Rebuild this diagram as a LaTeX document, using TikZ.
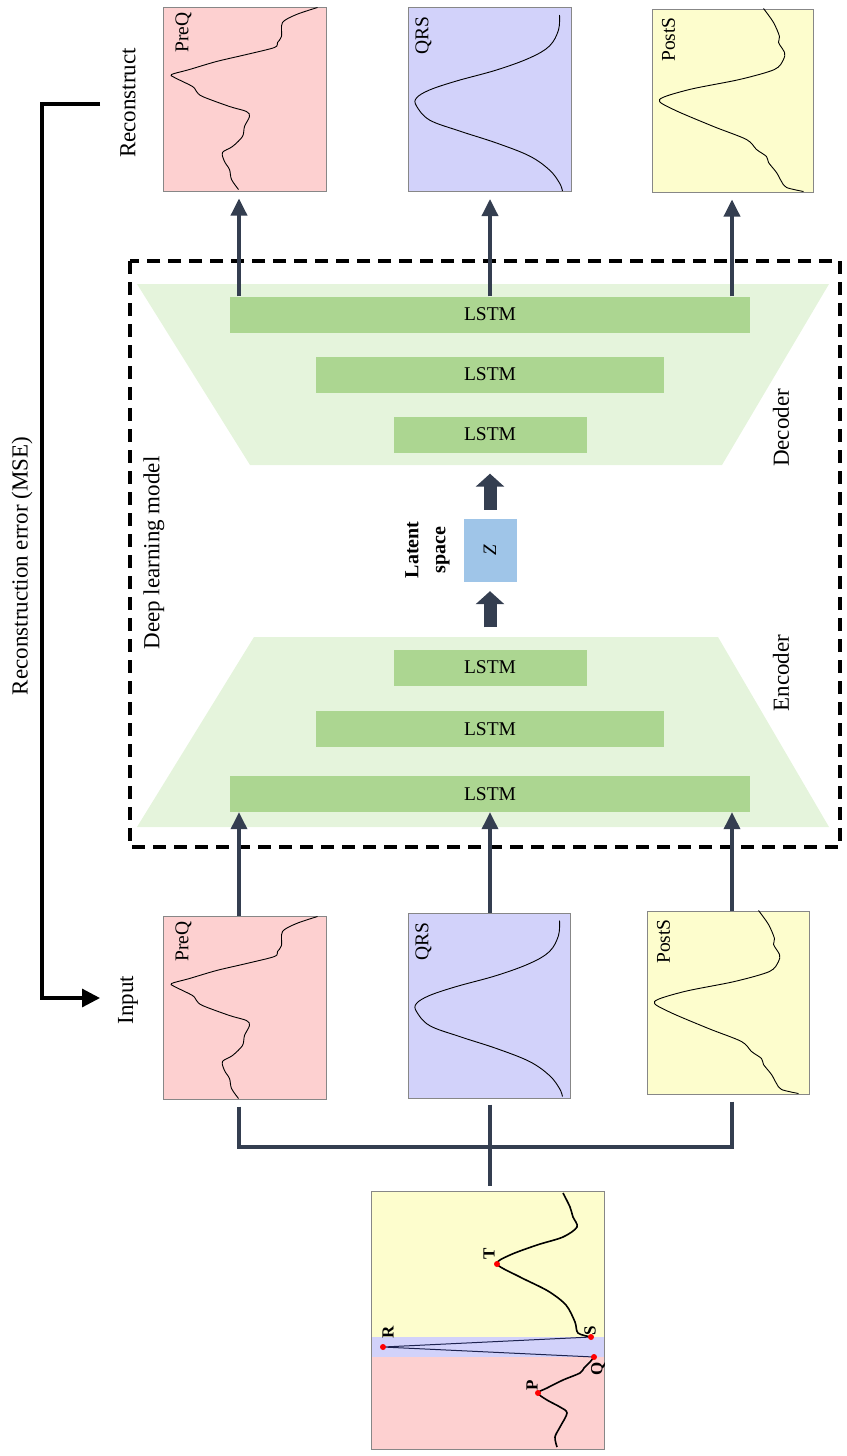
\documentclass[tikz,border=0pt]{standalone}
\usepackage{fontspec}
\setmainfont{Liberation Serif}
\usetikzlibrary{arrows.meta}

\definecolor{preqfill}{RGB}{253,208,208}
\definecolor{qrsfill}{RGB}{210,210,250}
\definecolor{postsfill}{RGB}{253,253,205}
\definecolor{framegray}{RGB}{135,135,135}
\definecolor{lstmgreen}{RGB}{172,214,145}
\definecolor{trapgreen}{RGB}{229,244,220}
\definecolor{latentblue}{RGB}{159,197,232}
\definecolor{slate}{RGB}{52,62,80}
\definecolor{qrsline}{RGB}{30,35,80}

\tikzset{
  sigbox/.style={draw=framegray, line width=1pt, inner sep=0pt, minimum width=163pt, minimum height=184pt},
  lstm/.style={fill=lstmgreen, inner sep=0pt, minimum height=36pt, font=\fontsize{19.5}{23}\selectfont},
  biglabel/.style={rotate=90, font=\fontsize{23}{28}\selectfont},
  boxlabel/.style={rotate=90, inner sep=0pt, font=\fontsize{19.5}{23}\selectfont},
  peak/.style={rotate=90, inner sep=0pt, font=\bfseries\fontsize{17}{20}\selectfont},
  wave/.style={line width=0.9pt, black},
  conn/.style={draw=slate, line width=3.5pt},
  link/.style={conn, -{Triangle[width=16pt,length=17pt]}},
  fat/.style={draw=slate, line width=13pt, -{Triangle[width=28pt,length=13pt]}},
  feedback/.style={line width=3.2pt, -{Triangle[width=18pt,length=18pt]}},
}

% signal shapes, drawn from a box's north west corner
\newcommand{\preqwave}[1]{\draw[wave, shift={(#1)}] plot[smooth, tension=0.5] coordinates {(155,1) (134,8) (120,16) (119,30) (115,36) (112,41) (84,48) (54,55) (27,63) (9,68) (12,71) (30,80) (34,85) (40,90) (67,100) (84,105) (87,110) (82,120) (80,130) (70,140) (60,146) (62,155) (67,163) (69,173) (76,183)};}
\newcommand{\qrswave}[1]{\draw[wave, shift={(#1)}] plot[smooth, tension=0.6] coordinates {(152,8) (151,23) (142,39) (122,51) (89,63) (49,74) (22,83) (9,91) (9,99) (22,113) (52,124) (89,136) (122,149) (142,163) (152,176) (155,184)};}
\newcommand{\postswave}[1]{\draw[wave, shift={(#1)}] plot[smooth, tension=0.5] coordinates {(112,0) (122,14) (128,28) (127,34) (133,44) (132,51) (123,61) (88,71) (38,81) (8,91) (22,101) (62,118) (95,131) (105,141) (115,148) (117,154) (125,164) (130,173) (135,179) (152,183)};}

\begin{document}
\begin{tikzpicture}[x=1pt, y=-1pt]
  \useasboundingbox (0,0) rectangle (846,1456);

  % encoder and decoder funnels
  \fill[trapgreen] (137,284) -- (829,284) -- (722,465) -- (250,465) -- cycle;
  \fill[trapgreen] (254,637) -- (718,637) -- (829,827) -- (137,827) -- cycle;
  \draw[line width=3.2pt, dash pattern=on 13pt off 8pt] (130,261) rectangle (840,847);

  \node[lstm, minimum width=520pt] (dec1) at (490,314.5) {LSTM};
  \node[lstm, minimum width=348pt] (dec2) at (490,374.5) {LSTM};
  \node[lstm, minimum width=193pt] (dec3) at (490,434.5) {LSTM};
  \node[lstm, minimum width=193pt] (enc3) at (490,667.5) {LSTM};
  \node[lstm, minimum width=348pt] (enc2) at (490,729) {LSTM};
  \node[lstm, minimum width=520pt] (enc1) at (490,794) {LSTM};

  \node[fill=latentblue, minimum width=53pt, minimum height=63pt, inner sep=0pt] (z) at (490,550.5)
    {\rotatebox{90}{\fontsize{19}{22}\selectfont\textit{Z}}};
  \node[rotate=90, align=center, font=\bfseries\fontsize{20}{27}\selectfont] (latent) at (427.5,550) {Latent\\space};
  \draw[fat, shorten <=22pt, shorten >=9pt] (enc3.north) -- (z.south);
  \draw[fat, shorten <=9pt, shorten >=21pt] (z.north) -- (dec3.south);

  % signal panels
  \node[sigbox, fill=preqfill] (outPreQ) at (244.5,99) {};
  \node[sigbox, fill=qrsfill] (outQRS) at (489.5,99.5) {};
  \node[sigbox, fill=postsfill, minimum width=161pt, minimum height=183pt] (outPostS) at (732.5,100.5) {};
  \node[sigbox, fill=preqfill, minimum height=183pt] (inPreQ) at (244.5,1007.5) {};
  \node[sigbox, fill=qrsfill, minimum width=162pt, minimum height=185pt] (inQRS) at (489,1005.5) {};
  \node[sigbox, fill=postsfill, minimum width=162pt, minimum height=183pt] (inPostS) at (728,1002.5) {};

  \preqwave{outPreQ.north west}
  \qrswave{outQRS.north west}
  \postswave{outPostS.north west}
  \preqwave{inPreQ.north west}
  \qrswave{inQRS.north west}
  \postswave{inPostS.north west}

  \node[boxlabel] (outPreQ-l) at ([shift={(21,26)}]outPreQ.north west) {PreQ};
  \node[boxlabel] (outQRS-l) at ([shift={(16,29)}]outQRS.north west) {QRS};
  \node[boxlabel] (outPostS-l) at ([shift={(17,31)}]outPostS.north west) {PostS};
  \node[boxlabel] (inPreQ-l) at ([shift={(21,26)}]inPreQ.north west) {PreQ};
  \node[boxlabel] (inQRS-l) at ([shift={(16,29)}]inQRS.north west) {QRS};
  \node[boxlabel] (inPostS-l) at ([shift={(17,31)}]inPostS.north west) {PostS};

  \coordinate (colA) at (239,0);
  \coordinate (colB) at (490,0);
  \coordinate (colC) at (732,0);
  \draw[link, shorten >=7pt] (colA |- dec1.north) -- (colA |- outPreQ.south);
  \draw[link, shorten >=7pt] (colB |- dec1.north) -- (colB |- outQRS.south);
  \draw[link, shorten >=7pt] (colC |- dec1.north) -- (colC |- outPostS.south);
  \draw[link] (colA |- inPreQ.north) -- (colA |- enc1.south);
  \draw[link] (colB |- inQRS.north) -- (colB |- enc1.south);
  \draw[link] (colC |- inPostS.north) -- (colC |- enc1.south);

  % full beat split into the three panels
  \fill[postsfill] (371,1191) rectangle (604,1337);
  \fill[qrsfill] (371,1337) rectangle (604,1357);
  \fill[preqfill] (371,1357) rectangle (604,1449);
  \node[draw=framegray, line width=1pt, minimum width=233pt, minimum height=258pt, inner sep=0pt] (ecg) at (487.5,1320) {};

  \coordinate (join) at (490,1147);
  \draw[conn] (colA |- inPreQ.south) ++(0,7) |- (join);
  \draw[conn] (colC |- inPostS.south) ++(0,7) |- (join);
  \draw[conn, shorten >=5pt] (colB |- inQRS.south) ++(0,6) -- (colB |- ecg.north);

  \coordinate (P) at (538,1393);
  \coordinate (Q) at (594,1357);
  \coordinate (R) at (383,1347);
  \coordinate (S) at (591,1337);
  \coordinate (T) at (497,1264);
  \draw[line width=1.6pt] plot[smooth, tension=0.5] coordinates {(557,1447) (555,1437) (560,1427) (567,1413) (560,1407) (547,1400) (P) (547,1388) (563,1380) (580,1373) (584,1368) (590,1362) (Q)};
  \draw[line width=1pt, qrsline] (Q) -- (R) -- (S);
  \draw[line width=1.6pt] plot[smooth, tension=0.5] coordinates {(S) (578,1333) (575,1322) (566,1305) (548,1291) (520,1277) (T) (510,1255) (537,1245) (563,1237) (577,1227) (573,1217) (570,1207) (563,1193)};
  \foreach \pt in {P,Q,R,S,T}
    \fill[red] (\pt) circle (3pt);
  \node[peak] (lblP) at (532,1385) {P};
  \node[peak] (lblQ) at (598,1369) {Q};
  \node[peak] (lblR) at (388,1332) {R};
  \node[peak] (lblS) at (590,1331) {S};
  \node[peak] (lblT) at (489,1254) {T};

  % labels and error loop
  \node[biglabel] (recon) at (128,103) {Reconstruct};
  \node[biglabel] (input) at (128,1000) {Input};
  \node[biglabel] (mse) at (22,566) {Reconstruction error (MSE)};
  \node[biglabel] (dlm) at (154,553) {Deep learning model};
  \node[biglabel] (decoder) at (781,428) {Decoder};
  \node[biglabel] (encoder) at (781,673) {Encoder};

  \coordinate (fbfrom) at (100,104);
  \coordinate (fbto) at (100,998);
  \draw[feedback] (fbfrom) -- ++(-58,0) |- (fbto);
\end{tikzpicture}
\end{document}
